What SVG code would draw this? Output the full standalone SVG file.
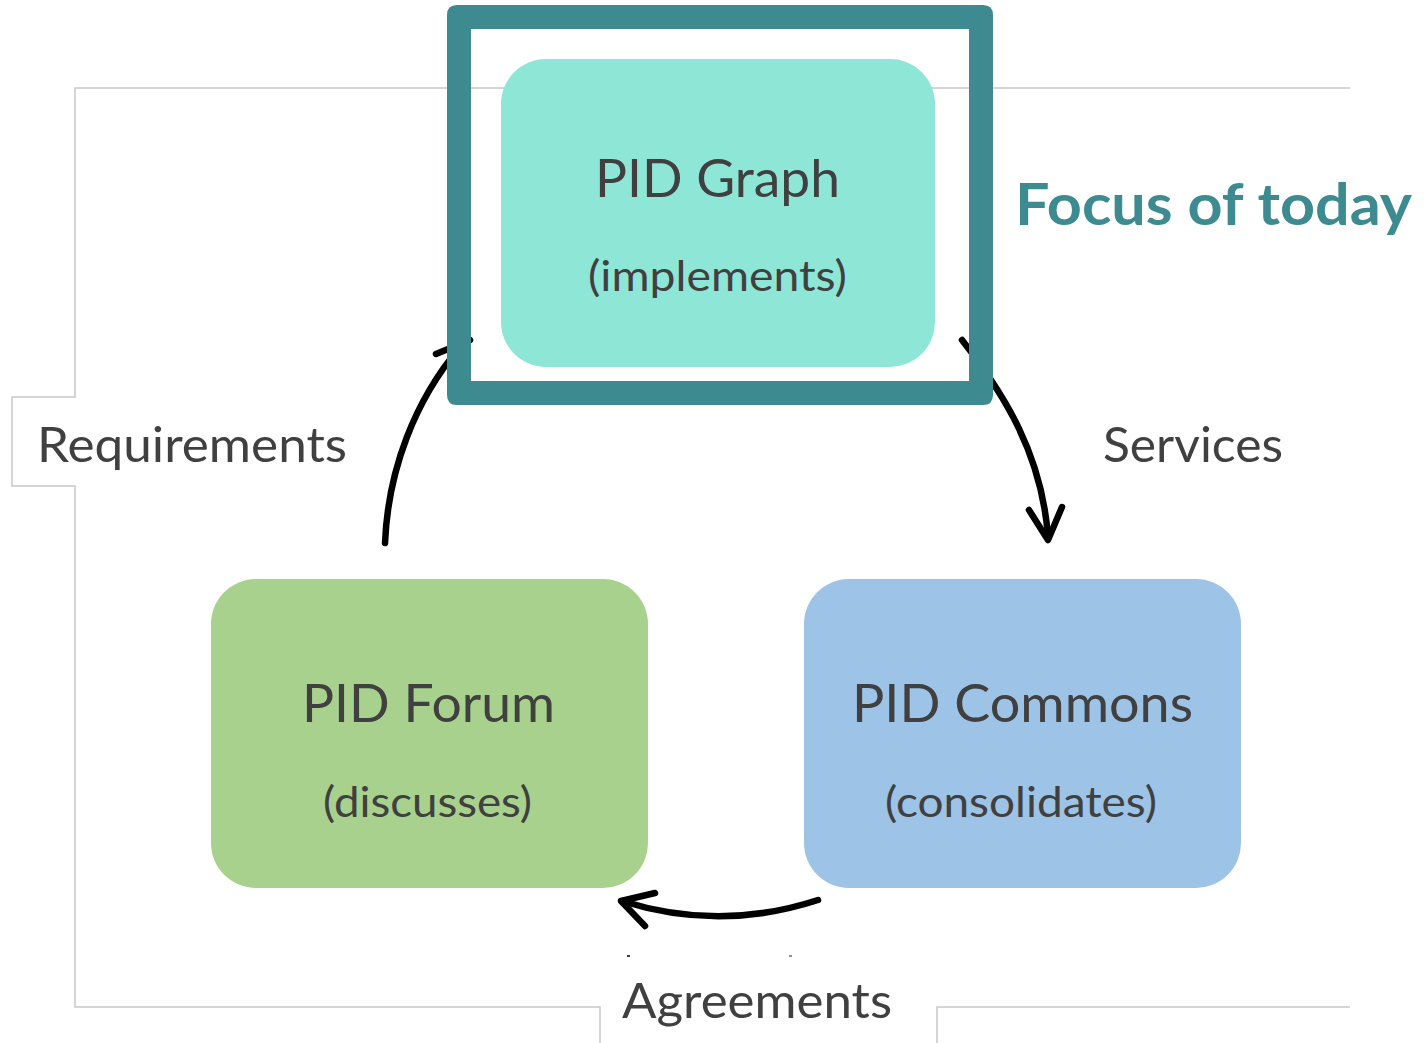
<svg xmlns="http://www.w3.org/2000/svg" width="1424" height="1043" viewBox="0 0 1424 1043">
  <defs>
    <style>
      .frame { fill: none; stroke: #c8c8c8; stroke-width: 1.5; }
      .node-text { font-family: Lato, "Liberation Sans", sans-serif; fill: #404040; text-anchor: start; }
      .title { font-size: 52px; }
      .sub { font-size: 42px; }
      .label { font-family: Lato, "Liberation Sans", sans-serif; fill: #404040; font-size: 49px; }
      .conn { fill: none; stroke: #000; stroke-width: 6.5; stroke-linecap: round; stroke-linejoin: round; }
    </style>
  </defs>
  <rect width="1424" height="1043" fill="#ffffff"/>

  <g id="frame">
    <polyline class="frame" points="1350,88 75,88 75,397 12,397 12,486 75,486 75,1007 600,1007 600,1043"/>
    <polyline class="frame" points="937,1043 937,1007 1350,1007"/>
    <rect x="627" y="955" width="3" height="2" fill="#404040"/>
    <rect x="789" y="955" width="3" height="2" fill="#909090"/>
  </g>

  <g id="connectors">
    <path class="conn" d="M385,543 C388,470 415,400 460,347"/>
    <path class="conn" d="M436,354 L470,340"/>
    <path class="conn" d="M962,340 C1005,395 1042,455 1048,537"/>
    <path class="conn" d="M1029,510 L1048,540 L1062,507"/>
    <path class="conn" d="M818,900 Q720,932 622,901"/>
    <path class="conn" d="M655,893 L621,901 L645,926"/>
  </g>

  <g id="focus-box">
    <path fill="#3d8b90" fill-rule="evenodd" d="M457,5 H983 Q993,5 993,15 V395 Q993,405 983,405 H457 Q447,405 447,395 V15 Q447,5 457,5 Z M471,29 V381 H969 V29 Z"/>
  </g>

  <g id="pid-graph">
    <rect x="501" y="59" width="434" height="308" rx="45" ry="45" fill="#8ee6d6"/>
    <text class="node-text title" x="595" y="197" textLength="245" lengthAdjust="spacingAndGlyphs">PID Graph</text>
    <text class="node-text sub" x="588" y="291" textLength="259" lengthAdjust="spacingAndGlyphs">(implements)</text>
  </g>

  <g id="pid-forum">
    <rect x="211" y="579" width="437" height="309" rx="45" ry="45" fill="#a9d18e"/>
    <text class="node-text title" x="302" y="722" textLength="253" lengthAdjust="spacingAndGlyphs">PID Forum</text>
    <text class="node-text sub" x="323" y="817" textLength="209" lengthAdjust="spacingAndGlyphs">(discusses)</text>
  </g>

  <g id="pid-commons">
    <rect x="804" y="579" width="437" height="309" rx="45" ry="45" fill="#9dc3e6"/>
    <text class="node-text title" x="852" y="722" textLength="341" lengthAdjust="spacingAndGlyphs">PID Commons</text>
    <text class="node-text sub" x="885" y="817" textLength="272" lengthAdjust="spacingAndGlyphs">(consolidates)</text>
  </g>

  <g id="labels">
    <text class="label" x="37" y="462" textLength="310" lengthAdjust="spacingAndGlyphs">Requirements</text>
    <text class="label" x="1103" y="462" textLength="180" lengthAdjust="spacingAndGlyphs">Services</text>
    <text class="label" x="622" y="1018" textLength="270" lengthAdjust="spacingAndGlyphs">Agreements</text>
    <text x="1015" y="225" font-family="Lato, 'Liberation Sans', sans-serif" font-weight="bold" font-size="58" fill="#3d8b90" textLength="397" lengthAdjust="spacingAndGlyphs">Focus of today</text>
  </g>
</svg>
